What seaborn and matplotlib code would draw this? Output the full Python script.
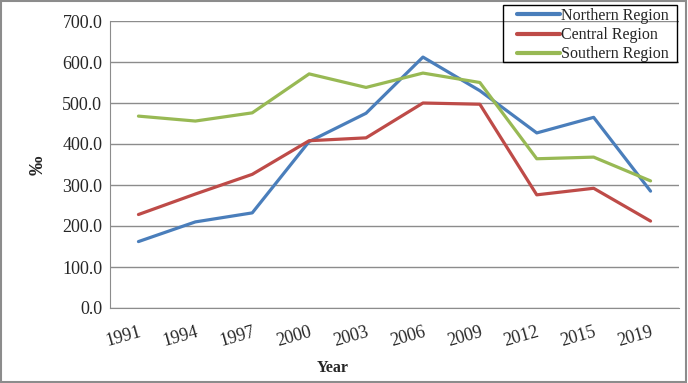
"""Line chart of regional rates (per mille) by survey year."""
import matplotlib.pyplot as plt
import pandas as pd
import seaborn as sns
from matplotlib.patches import Rectangle

years = ["1991", "1994", "1997", "2000", "2003", "2006", "2009", "2012", "2015", "2019"]
northern = [162, 210, 232, 406, 475, 612, 530, 427, 465, 285]
central = [228, 278, 326, 408, 415, 500, 497, 276, 292, 212]
southern = [468, 456, 476, 571, 538, 573, 550, 364, 368, 310]
regions = ["Northern Region", "Central Region", "Southern Region"]
colors = ["#4A7EBB", "#BE4B48", "#98B954"]

W, H = 688, 383


def main():
    df = pd.DataFrame({"Year": years, regions[0]: northern, regions[1]: central, regions[2]: southern})
    df = df.melt(id_vars="Year", var_name="Region", value_name="Value")

    sns.set_style("white")
    plt.rcParams["font.family"] = ["Liberation Serif", "DejaVu Serif"]

    fig = plt.figure(figsize=(W / 100, H / 100), dpi=100)
    ax = fig.add_axes([110 / W, 1 - 308 / H, 569 / W, 287 / H])
    sns.lineplot(data=df, x="Year", y="Value", hue="Region", hue_order=regions,
                 palette=colors, linewidth=2.3, sort=False, ax=ax)

    ax.set_xlim(-0.5, len(years) - 0.5)
    ax.set_ylim(0, 700)
    ax.set_yticks(range(0, 701, 100))
    ax.set_yticklabels([f"{v:.1f}" for v in range(0, 701, 100)], fontsize=13)
    ax.yaxis.grid(True, color="#8c8c8c", linewidth=1)
    ax.set_axisbelow(True)
    for side in ["top", "right"]:
        ax.spines[side].set_visible(False)
    for side in ["left", "bottom"]:
        ax.spines[side].set_color("#8c8c8c")
    ax.tick_params(axis="y", length=4, color="#8c8c8c", pad=1.5)
    ax.tick_params(axis="x", length=0, pad=11)
    for lbl in ax.get_xticklabels():
        lbl.set_rotation(16)
        lbl.set_fontsize(13)
        lbl.set_ha("right")
        lbl.set_va("top")
        lbl.set_rotation_mode("anchor")

    ax.set_xlabel("Year", fontsize=11.5, fontweight="bold")
    ax.xaxis.label.set_va("center")
    ax.xaxis.set_label_coords((333 - 110) / 569, -(368 - 308) / 287)
    ax.set_ylabel("‰", fontsize=14, fontweight="bold")
    ax.yaxis.label.set_va("center")
    ax.yaxis.set_label_coords((38 - 110) / 569, (308 - 165) / 287)

    leg = ax.legend(loc="upper left", bbox_to_anchor=(517 / W, 1 - 8 / H),
                    bbox_transform=fig.transFigure, fontsize=11.5, frameon=False,
                    borderpad=0, labelspacing=0.2, handlelength=2.7,
                    handletextpad=0.05, borderaxespad=0)
    for line in leg.get_lines():
        line.set_linewidth(3)
    fig.patches.append(Rectangle((503 / W, 1 - 62 / H), 174 / W, 57 / H,
                                 transform=fig.transFigure, fill=True, facecolor="none",
                                 edgecolor="black", linewidth=1, zorder=10))

    fig.patches.append(Rectangle((0.002, 0.003), 0.995, 0.994, transform=fig.transFigure,
                                 fill=False, edgecolor="#8c8c8c", linewidth=1.5))

    fig.savefig("out.png", dpi=100)


if __name__ == "__main__":
    main()
